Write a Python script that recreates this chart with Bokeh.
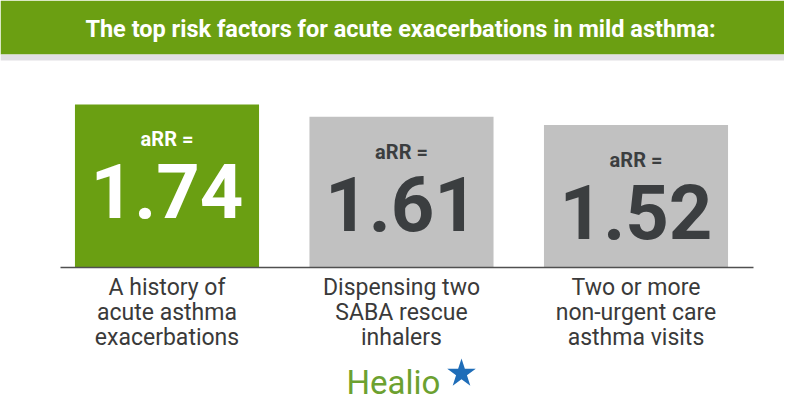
from bokeh.plotting import figure
from bokeh.models import ColumnDataSource, Range1d, BoxAnnotation, Label
from bokeh.core.properties import value
from bokeh.embed import file_html
from bokeh.resources import INLINE

# ---- data ----
title_text = "The top risk factors for acute exacerbations in mild asthma:"
categories = [
    "A history of\nacute asthma\nexacerbations",
    "Dispensing two\nSABA rescue\ninhalers",
    "Two or more\nnon-urgent care\nasthma visits",
]
arr_values = [1.74, 1.61, 1.52]
value_labels = ["1.74", "1.61", "1.52"]
prefix_labels = ["aRR =", "aRR =", "aRR ="]

# ---- style ----
GREEN = "#6a9f12"
GREY = "#c1c1c1"
DARK = "#3b3e40"
bar_colors = [GREEN, GREY, GREY]
text_colors = ["#ffffff", DARK, DARK]

W, H = 784, 404
PX_X = 234.5   # pixels per category step
PX_Y = 93.7    # pixels per unit of aRR
BASE_PX = 267  # pixel row of the zero line
x0 = -166.5 / PX_X
y_top = BASE_PX / PX_Y
y_bot = -(H - BASE_PX) / PX_Y

def px_to_x(px):
    return px / PX_X + x0

def py_to_y(py):
    return (BASE_PX - py) / PX_Y

xs = list(range(len(categories)))
src = ColumnDataSource(dict(
    x=xs, top=arr_values, cat=categories, val=value_labels, pre=prefix_labels,
    bar_color=bar_colors, txt_color=text_colors,
))

p = figure(width=W, height=H, output_backend="svg", toolbar_location=None,
           x_range=Range1d(x0, x0 + W / PX_X), y_range=Range1d(y_bot, y_top),
           min_border=0, background_fill_color="white", border_fill_color="white")
p.axis.visible = False
p.grid.visible = False
p.outline_line_color = None

# header band
p.add_layout(BoxAnnotation(bottom=py_to_y(54), fill_color="#6b9f12", fill_alpha=1,
                           line_alpha=0, level="underlay"))
p.add_layout(BoxAnnotation(bottom=py_to_y(60), top=py_to_y(54), fill_color="#e2dfe3",
                           fill_alpha=1, line_alpha=0, level="underlay"))
p.add_layout(Label(x=px_to_x(400), y=py_to_y(28), text=title_text, text_color="white",
                   text_font="Roboto", text_font_style="bold", text_font_size="23.5px",
                   text_align="center", text_baseline="middle"))

# bars
p.vbar(x="x", top="top", bottom=0, width=0.785, fill_color="bar_color", line_color=None, source=src)

# baseline
p.segment(x0=[px_to_x(60)], y0=[0], x1=[px_to_x(753)], y1=[0], line_color="#505050", line_width=1.5)

# in-bar texts
p.text(x="x", y="top", text="pre", text_color="txt_color", text_font=value("Roboto"),
       text_font_style="bold", text_font_size="20px", text_align="center",
       text_baseline="middle", y_offset=35, source=src)
p.text(x="x", y="top", text="val", text_color="txt_color", text_font=value("Roboto"),
       text_font_style="bold", text_font_size="76px", text_align="center",
       text_baseline="middle", y_offset=87, source=src)

# category labels
p.text(x="x", y=0, text="cat", text_color="#3a3a3a", text_font=value("Roboto"),
       text_font_size="23px", text_align="center", text_baseline="middle",
       text_line_height=0.93, y_offset=45, source=src)

# logo
p.add_layout(Label(x=px_to_x(393), y=py_to_y(382), text="Healio", text_color="#6ca130",
                   text_font="Roboto", text_font_size="33px",
                   text_align="center", text_baseline="middle"))
p.scatter(x=[px_to_x(461)], y=[py_to_y(373)], marker="star", size=30,
          fill_color="#1f6db8", line_color=None)

open("out.html", "w").write(file_html(p, INLINE))
